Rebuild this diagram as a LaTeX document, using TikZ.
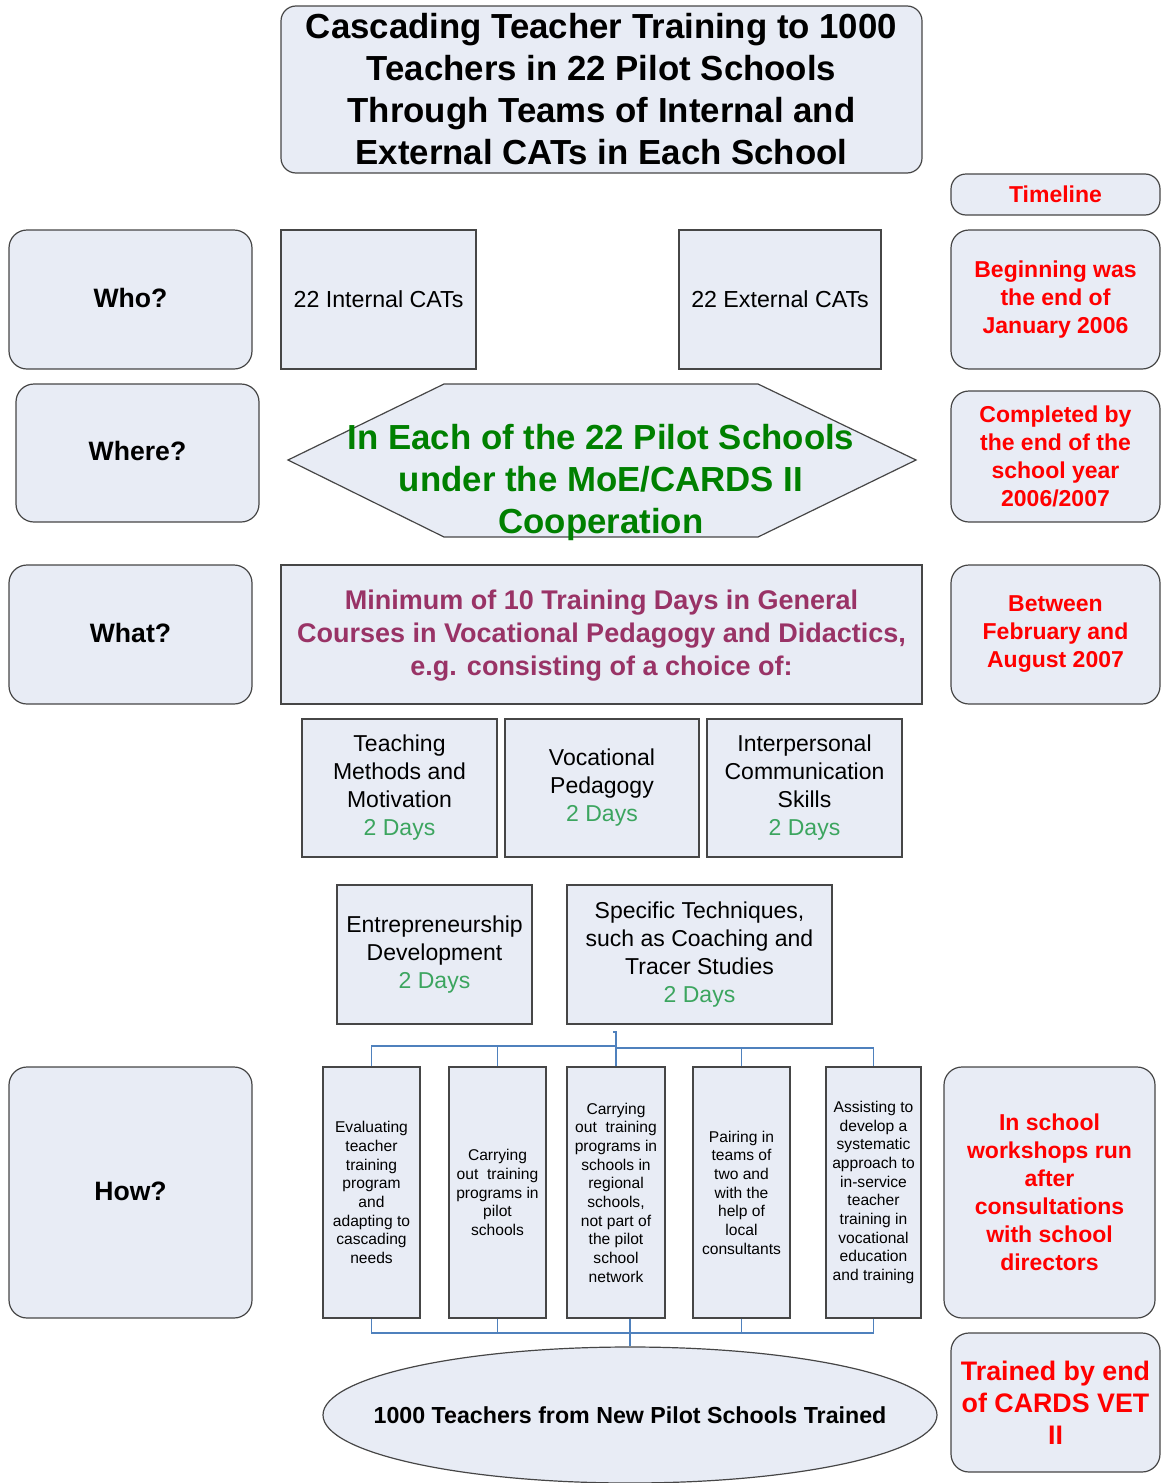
\documentclass[tikz,border=0pt]{standalone}
\usepackage{fontspec}
\setmainfont{Liberation Sans}
\usetikzlibrary{fit,shapes.geometric}

\definecolor{boxfill}{RGB}{232,236,245}
\definecolor{boxline}{RGB}{70,70,70}
\definecolor{busblue}{RGB}{79,129,189}
\definecolor{daysgreen}{RGB}{60,165,95}
\definecolor{placegreen}{RGB}{0,128,0}
\definecolor{coursepurple}{RGB}{153,51,102}
\definecolor{timered}{RGB}{255,0,0}

\tikzset{
  base/.style={draw=boxline, fill=boxfill, line width=0.6pt, inner sep=0pt},
  rbox/.style={base, rounded corners=9pt},
  sbox/.style={base},
  txt/.style={inner sep=0pt, align=center},
  bus/.style={draw=busblue, line width=0.55pt},
  titlefont/.style={txt, font=\fontsize{17.4}{21}\selectfont\bfseries},
  askfont/.style={txt, font=\fontsize{13.3}{16}\selectfont\bfseries},
  catfont/.style={txt, font=\fontsize{11.6}{14}\selectfont},
  coursefont/.style={txt, font=\fontsize{11.5}{14}\selectfont},
  purplefont/.style={txt, font=\fontsize{13.5}{16.5}\selectfont\bfseries, text=coursepurple},
  redfont/.style={txt, font=\fontsize{11.5}{14}\selectfont\bfseries, text=timered},
  bigredfont/.style={txt, font=\fontsize{13.4}{16}\selectfont\bfseries, text=timered},
  smallfont/.style={txt, font=\fontsize{7.8}{9.33}\selectfont},
}
\newcommand{\days}{\textcolor{daysgreen}{2 Days}}

\begin{document}
\begin{tikzpicture}[x=0.5pt, y=-0.5pt]
\useasboundingbox (0,0) rectangle (1161,1483);

% title
\node[rbox, rounded corners=7.5pt, fit={(281,6) (922,173)}] (title) {};
\node[titlefont] (titletxt) at (title.center)
  {Cascading Teacher Training to 1000\\Teachers in 22 Pilot Schools\\Through Teams of Internal and\\External CATs in Each School};

% timeline column
\node[rbox, rounded corners=7.5pt, fit={(951,174) (1160,215)}] (timeline) {};
\node[redfont] at (timeline.center) {Timeline};
\node[rbox, fit={(951,230) (1160,369)}] (t1) {};
\node[redfont] at (t1.center) {Beginning was\\the end of\\January 2006};
\node[rbox, fit={(951,391) (1160,522)}] (t2) {};
\node[redfont] at (t2.center) {Completed by\\the end of the\\school year\\2006/2007};
\node[rbox, fit={(951,565) (1160,704)}] (t3) {};
\node[redfont] at (t3.center) {Between\\February and\\August 2007};
\node[rbox, fit={(944,1067) (1155,1318)}] (t4) {};
\node[redfont] at (t4.center) {In school\\workshops run\\after\\consultations\\with school\\directors};
\node[rbox, fit={(951,1333) (1160,1472)}] (t5) {};
\node[bigredfont] at (t5.center) {Trained by end\\of CARDS VET\\II};

% question column
\node[rbox, fit={(9,230) (252,369)}] (who) {};
\node[askfont] at ([yshift=0.8pt]who.center) {Who?};
\node[rbox, fit={(16,384) (259,522)}] (where) {};
\node[askfont] at ([yshift=0.8pt]where.center) {Where?};
\node[rbox, fit={(9,565) (252,704)}] (what) {};
\node[askfont] at ([yshift=0.8pt]what.center) {What?};
\node[rbox, fit={(9,1067) (252,1318)}] (how) {};
\node[askfont] at ([yshift=0.8pt]how.center) {How?};

% who
\node[sbox, fit={(281,230) (476,369)}] (internal) {};
\node[catfont] at (internal.center) {22 Internal CATs};
\node[sbox, fit={(679,230) (881,369)}] (external) {};
\node[catfont] at (external.center) {22 External CATs};

% where
\filldraw[draw=boxline, fill=boxfill, line width=0.6pt]
  (288,460) -- (444,384) -- (758,384) -- (916,460) -- (758,537) -- (444,537) -- cycle;
\node[titlefont, text=placegreen] (place) at (601,482)
  {In Each of the 22 Pilot Schools\\under the MoE/CARDS II\\Cooperation};

% what
\node[sbox, fit={(281,565) (922,704)}] (minimum) {};
\node[purplefont] at ([yshift=-0.6pt]minimum.center)
  {Minimum of 10 Training Days in General\\Courses in Vocational Pedagogy and Didactics,\\e.g. consisting of a choice of:};
\node[sbox, fit={(302,719) (497,857)}] (c1) {};
\node[coursefont] at (c1.center) {Teaching\\Methods and\\Motivation\\\days};
\node[sbox, fit={(505,719) (699,857)}] (c2) {};
\node[coursefont] at (c2.center) {Vocational\\Pedagogy\\\days};
\node[sbox, fit={(707,719) (902,857)}] (c3) {};
\node[coursefont] at (c3.center) {Interpersonal\\Communication\\Skills\\\days};
\node[sbox, fit={(337,885) (532,1024)}] (c4) {};
\node[coursefont] at (c4.center) {Entrepreneurship\\Development\\\days};
\node[sbox, fit={(567,885) (832,1024)}] (c5) {};
\node[coursefont] at (c5.center) {Specific Techniques,\\such as Coaching and\\Tracer Studies\\\days};

% how
\node[sbox, fit={(323,1067) (420,1318)}] (h1) {};
\node[smallfont] at (h1.center)
  {Evaluating\\teacher\\training\\program\\and\\adapting to\\cascading\\needs};
\node[sbox, fit={(449,1067) (546,1318)}] (h2) {};
\node[smallfont] at (h2.center)
  {Carrying\\out\ \ training\\programs in\\pilot\\schools};
\node[sbox, fit={(567,1067) (665,1318)}] (h3) {};
\node[smallfont] at (h3.center)
  {Carrying\\out\ \ training\\programs in\\schools in\\regional\\schools,\\not part of\\the pilot\\school\\network};
\node[sbox, fit={(693,1067) (790,1318)}] (h4) {};
\node[smallfont] at (h4.center)
  {Pairing in\\teams of\\two and\\with the\\help of\\local\\consultants};
\node[sbox, fit={(826,1067) (921,1318)}] (h5) {};
\node[smallfont] at (h5.center)
  {Assisting to\\develop a\\systematic\\approach to\\in-service\\teacher\\training in\\vocational\\education\\and training};

% outcome
\node[base, ellipse, minimum width=307pt, minimum height=68pt] (outcome) at (630,1415) {};
\node[txt, font=\fontsize{11.6}{14}\selectfont\bfseries] at (outcome.center)
  {1000 Teachers from New Pilot Schools Trained};

% connectors into the how boxes
\coordinate (tj) at (616,1032);
\coordinate (tbl) at (0,1046);
\coordinate (tbr) at (0,1048);
\draw[bus] (tj) ++(-3,0) -- (tj) -- (h3.north);
\draw[bus] (h1.north) -- (h1.north |- tbl) -- (h3.north |- tbl);
\draw[bus] (h2.north) -- (h2.north |- tbl);
\draw[bus] (h3.north |- tbr) -| (h5.north);
\draw[bus] (h4.north) -- (h4.north |- tbr);

% connectors out of the how boxes
\coordinate (bb) at (630,1333);
\draw[bus] (h1.south) -- (h1.south |- bb) -- (h5.south |- bb) -- (h5.south);
\draw[bus] (h2.south) -- (h2.south |- bb);
\draw[bus] (h4.south) -- (h4.south |- bb);
\draw[bus] (bb |- h3.south) -- (bb) -- (outcome.north);
\end{tikzpicture}
\end{document}
